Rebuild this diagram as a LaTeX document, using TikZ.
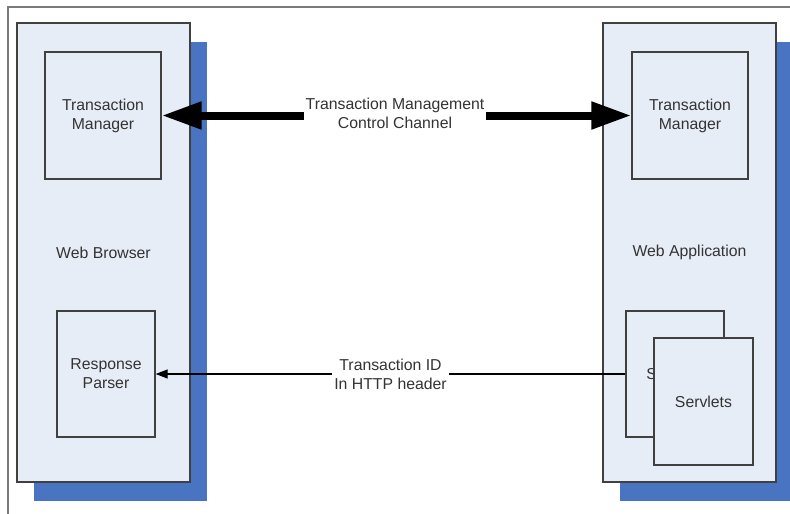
\documentclass[tikz,border=0pt]{standalone}
\usepackage{fontspec}
\setmainfont{Liberation Sans}
\usetikzlibrary{arrows.meta}
\definecolor{boxfill}{HTML}{E7EDF7}
\definecolor{shadowblue}{HTML}{4874C2}
\definecolor{edge}{HTML}{404040}
\definecolor{framegray}{HTML}{7A7A7A}
\definecolor{txt}{HTML}{333333}
\tikzset{
  base/.style={draw=edge, line width=1.3pt, fill=boxfill, inner sep=0pt, text=txt,
    font=\fontsize{15.8}{19}\selectfont, align=center},
  bigbox/.style={base, minimum width=173pt, minimum height=459pt},
  shadowbox/.style={fill=shadowblue, draw=none, minimum width=173pt, minimum height=459pt, inner sep=0pt},
  inbox/.style={base},
  lbl/.style={font=\fontsize{15.8}{19}\selectfont, text=txt, align=center, fill=white, inner sep=2pt},
  thickarrow/.style={line width=8pt, -{Triangle[length=40pt,width=26pt]}},
  thinarrow/.style={line width=1.2pt, -{Triangle[length=12pt,width=9pt]}}
}
\begin{document}
\begin{tikzpicture}[x=1pt,y=-1pt]
\useasboundingbox (0,0) rectangle (790,514);
\fill[white] (0,0) rectangle (790,514);
% frame
\draw[framegray, line width=1.5pt] (8,514) -- (8,7) -- (790,7);
% shadows
\node[shadowbox] (shL) at (120,271) {};
\node[shadowbox] (shR) at (706.5,271) {};
% big boxes
\node[bigbox] (browser) at (103.5,252.5) {Web Browser};
\node[bigbox] (app) at (689.5,252.5) {Web Application};
% inner boxes
\node[inbox, minimum width=116pt, minimum height=127pt] (tmL) at (103,115.5) {Transaction\\Manager};
\node[inbox, minimum width=116pt, minimum height=127pt] (tmR) at (690,115.5) {Transaction\\Manager};
\node[inbox, minimum width=98pt, minimum height=126pt] (parser) at (106,374) {Response\\Parser};
\node[inbox, minimum width=98pt, minimum height=126pt] (sback) at (675,374) {Servlets};
\node[inbox, minimum width=99pt, minimum height=127pt] (sfront) at (703.5,401.5) {Servlets};
% labels and connectors
\node[lbl] (ctl) at (395,113.5) {Transaction Management\\Control Channel};
\draw[thickarrow] (ctl.west |- tmL.east) -- (tmL.east);
\draw[thickarrow] (ctl.east |- tmR.west) -- (tmR.west);
\draw[thinarrow] (sback.west) -- node[lbl, pos=0.5] (tid) {Transaction ID\\In HTTP header} (parser.east);
\end{tikzpicture}
\end{document}
